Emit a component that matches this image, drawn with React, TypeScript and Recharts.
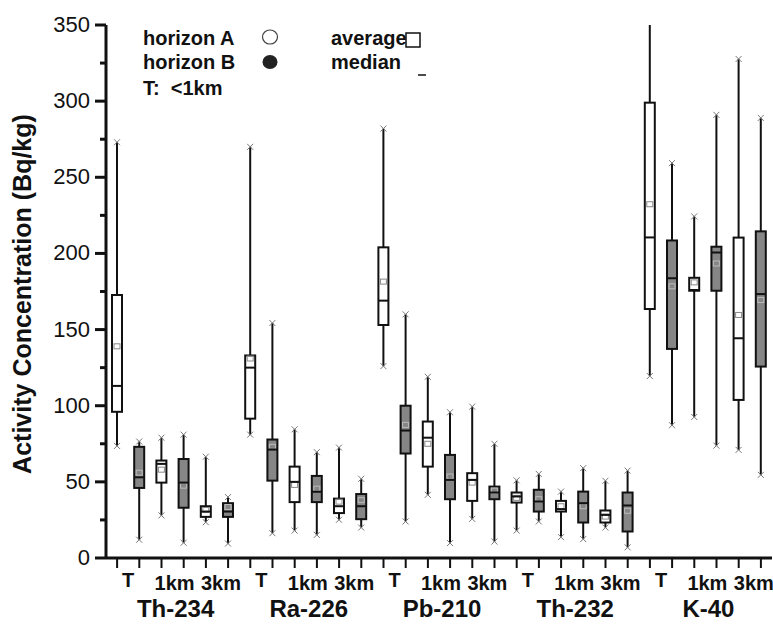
import React from 'react';
import { ComposedChart, Bar, XAxis, YAxis } from 'recharts';

const nuclides = ['Th-234', 'Ra-226', 'Pb-210', 'Th-232', 'K-40'];
const distances = ['T', '1km', '3km'];
const horizons = ['A', 'B'];
const yTicks = [0, 25, 50, 75, 100, 125, 150, 175, 200, 225, 250, 275, 300, 325, 350];

// order inside each nuclide: A-T, B-T, A-1km, B-1km, A-3km, B-3km
const minVals = [
  73.6, 12, 28, 10, 23.5, 9.5,
  81, 16.3, 18, 15.2, 25.1, 20,
  126, 24, 41.5, 9.8, 25.7, 10.8,
  18, 24, 13.7, 12.4, 20, 7,
  119.5, 87.2, 92.6, 73.8, 71, 54.6,
];
const q1Vals = [
  96, 46, 49.5, 33, 27, 27,
  91.5, 50.8, 36.7, 36.7, 29.5, 25.5,
  153, 68.6, 60, 38.6, 37.5, 38.6,
  36.4, 30.5, 30.5, 23.3, 23.3, 17.4,
  163.5, 137.3, 175.5, 175.5, 103.8, 125.7,
];
const medianVals = [
  113, 53, 61.8, 49.5, 30.5, 30.5,
  125, 71.2, 50, 43.5, 34, 34,
  169, 83.7, 79, 51.3, 51.3, 43,
  40.4, 37.1, 32.1, 36, 28.3, 34.5,
  210.5, 183.7, 176, 200.6, 144.3, 173.3,
];
const meanVals = [
  139, 56, 58, 47.5, 31.5, 33.5,
  131, 73, 48, 45.5, 37, 38,
  181.5, 87.4, 75, 53.5, 49.5, 44.3,
  39.5, 38.6, 34, 34, 27.2, 31,
  232.3, 178.4, 181, 193.4, 159.6, 169.4,
];
const q3Vals = [
  172.7, 73, 64, 65, 34, 36,
  133, 77.8, 60, 53.9, 39, 42,
  204, 100, 89.6, 67.7, 55.7, 46.9,
  43, 44.8, 37.5, 43.6, 31.2, 43,
  299, 208.5, 184, 204.4, 210.4, 214.5,
];
const maxVals = [
  273, 76.5, 79, 81, 66.5, 40,
  270, 154.3, 84.5, 69.5, 72.5, 52,
  282, 160, 119, 95.7, 99.4, 75,
  51, 55.2, 43.6, 59, 50.7, 57.4,
  380, 259.3, 224.3, 291, 327.7, 289,
];

const CHART_W = 773;
const CHART_H = 624;
const YAXIS_W = 106;
const XAXIS_H = 66;
const MARGIN = { top: 25, right: 1, bottom: 0, left: 0 };

const data = minVals.map((min, i) => {
  const g = Math.floor(i / 6);
  const pos = i % 6;
  return {
    id: `${nuclides[g]} ${horizons[pos % 2]} ${distances[Math.floor(pos / 2)]}`,
    horizon: horizons[pos % 2],
    min,
    q1: q1Vals[i],
    median: medianVals[i],
    mean: meanVals[i],
    q3: q3Vals[i],
    max: maxVals[i],
    range: [min, maxVals[i]],
  };
});

const BAND = (CHART_W - MARGIN.left - MARGIN.right - YAXIS_W) / data.length;
const FONT = '"Liberation Sans", Arial, sans-serif';
const INK = '#111';

const Cross = ({ cx, cy }: { cx: number; cy: number }) => (
  <g stroke="#777" strokeWidth={1}>
    <line x1={cx - 3} y1={cy - 3} x2={cx + 3} y2={cy + 3} />
    <line x1={cx - 3} y1={cy + 3} x2={cx + 3} y2={cy - 3} />
  </g>
);

// one bar = whisker range [min, max]; the rest is placed along it
const BoxShape = (props: any) => {
  const { x, y, width, height, payload } = props;
  const { min, q1, median, mean, q3, max, horizon } = payload;
  const toY = (v: number) => y + (height * (max - v)) / (max - min);
  const cx = x + width / 2;
  const half = width / 2;
  const isB = horizon === 'B';
  return (
    <g>
      <line x1={cx} x2={cx} y1={toY(max)} y2={toY(min)} stroke={INK} strokeWidth={2} />
      <Cross cx={cx} cy={toY(max)} />
      <Cross cx={cx} cy={toY(min)} />
      <rect
        x={cx - half}
        y={toY(q3)}
        width={width}
        height={toY(q1) - toY(q3)}
        fill={isB ? '#868686' : '#fff'}
        stroke={INK}
        strokeWidth={2}
      />
      <rect
        x={cx - half + 2}
        y={toY(mean) - 2.5}
        width={width - 4}
        height={5}
        fill="none"
        stroke={isB ? '#bbb' : '#888'}
        strokeWidth={1}
      />
      <line x1={cx - half} x2={cx + half} y1={toY(median)} y2={toY(median)} stroke={INK} strokeWidth={2} />
    </g>
  );
};

const XTick = (props: any) => {
  const { x, y, index } = props;
  const pos = index % 6;
  const labelShift = [0, 2, 4][Math.floor(pos / 2)];
  return (
    <g>
      <line x1={x} x2={x} y1={y} y2={y + 10} stroke={INK} strokeWidth={2} />
      {pos % 2 === 0 && (
        <text
          x={x + BAND / 2 + labelShift}
          y={pos === 0 ? y + 29 : y + 32}
          textAnchor="middle"
          fontFamily={FONT}
          fontWeight="bold"
          fontSize={20}
          fill={INK}
        >
          {distances[pos / 2]}
        </text>
      )}
      {pos === 2 && (
        <text
          x={x + BAND / 2 + 3}
          y={y + 59}
          textAnchor="middle"
          fontFamily={FONT}
          fontWeight="bold"
          fontSize={24}
          fill={INK}
        >
          {nuclides[Math.floor(index / 6)]}
        </text>
      )}
    </g>
  );
};

const YTick = (props: any) => {
  const { x, y, payload } = props;
  const major = payload.value % 50 === 0;
  return (
    <g>
      <line x1={x - (major ? 11 : 6)} x2={x} y1={y} y2={y} stroke={INK} strokeWidth={3} />
      {major && (
        <text x={x - 16} y={y + 7} textAnchor="end" fontFamily={FONT} fontSize={22} fill={INK}>
          {payload.value}
        </text>
      )}
    </g>
  );
};

const legendText = { fontFamily: FONT, fontWeight: 'bold' as const, fontSize: 20, fill: INK };

export default function App() {
  return (
    <div style={{ position: 'absolute', left: 0, top: 0, width: CHART_W, height: CHART_H, background: '#fff' }}>
      <ComposedChart width={CHART_W} height={CHART_H} data={data} margin={MARGIN}>
        <XAxis
          dataKey="id"
          interval={0}
          height={XAXIS_H}
          tickLine={false}
          tickSize={0}
          tickMargin={0}
          tick={<XTick />}
          axisLine={{ stroke: INK, strokeWidth: 3 }}
        />
        <YAxis
          width={YAXIS_W}
          domain={[0, 350]}
          ticks={yTicks}
          allowDataOverflow
          interval={0}
          tickLine={false}
          tickSize={0}
          tickMargin={0}
          tick={<YTick />}
          axisLine={{ stroke: INK, strokeWidth: 3 }}
        />
        <Bar dataKey="range" barSize={10} shape={<BoxShape />} isAnimationActive={false} />
      </ComposedChart>
      <svg
        width={CHART_W}
        height={CHART_H}
        style={{ position: 'absolute', left: 0, top: 0, pointerEvents: 'none' }}
      >
        <text
          transform="translate(31 294) rotate(-90)"
          textAnchor="middle"
          fontFamily={FONT}
          fontWeight="bold"
          fontSize={25}
          fill={INK}
        >
          Activity Concentration (Bq/kg)
        </text>
        <text x={143} y={45} {...legendText}>horizon A</text>
        <text x={143} y={69} {...legendText}>horizon B</text>
        <text x={143} y={95} {...legendText}>{'T:\u00a0 <1km'}</text>
        <ellipse cx={270} cy={37} rx={7.5} ry={7} fill="#fff" stroke="#444" strokeWidth={1.2} />
        <ellipse cx={270} cy={62} rx={7.5} ry={7} fill="#222" />
        <text x={331} y={45} {...legendText}>average</text>
        <rect x={406} y={33} width={14} height={14} fill="#fff" stroke={INK} strokeWidth={1.5} />
        <text x={331} y={69} {...legendText}>median</text>
        <line x1={418} x2={426} y1={75} y2={75} stroke={INK} strokeWidth={1.5} />
      </svg>
    </div>
  );
}
